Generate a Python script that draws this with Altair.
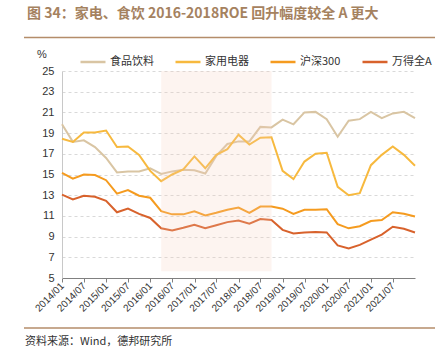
import altair as alt
import pandas as pd

dates = ["2013-12-31", "2014-03-31", "2014-06-30", "2014-09-30", "2014-12-31",
         "2015-03-31", "2015-06-30", "2015-09-30", "2015-12-31",
         "2016-03-31", "2016-06-30", "2016-09-30", "2016-12-31",
         "2017-03-31", "2017-06-30", "2017-09-30", "2017-12-31",
         "2018-03-31", "2018-06-30", "2018-09-30", "2018-12-31",
         "2019-03-31", "2019-06-30", "2019-09-30", "2019-12-31",
         "2020-03-31", "2020-06-30", "2020-09-30", "2020-12-31",
         "2021-03-31", "2021-06-30", "2021-09-30", "2021-12-31"]

food = [19.85, 18.15, 18.3, 17.65, 16.6, 15.2, 15.3, 15.3, 15.6,
        15.05, 15.3, 15.45, 15.4, 15.1, 16.8, 17.95, 18.2,
        18.2, 19.6, 19.55, 20.3, 19.85, 21.0, 21.05, 20.35,
        18.65, 20.2, 20.35, 21.05, 20.45, 20.9, 21.05, 20.45]
appliance = [18.45, 18.15, 19.05, 19.05, 19.25, 17.65, 17.7, 16.9, 15.35,
             14.35, 15.0, 15.5, 16.75, 15.6, 16.9, 17.45, 18.85,
             17.9, 18.55, 18.6, 15.35, 14.55, 16.25, 17.0, 17.1,
             13.8, 13.0, 13.2, 15.9, 16.9, 17.7, 16.9, 15.85]
hs300 = [15.15, 14.6, 15.0, 14.95, 14.45, 13.15, 13.5, 12.95, 12.75,
         11.45, 11.15, 11.15, 11.45, 11.05, 11.3, 11.6, 11.8,
         11.3, 11.9, 11.9, 11.7, 11.2, 11.6, 11.6, 11.65,
         10.2, 9.8, 10.0, 10.5, 10.6, 11.35, 11.2, 10.95]
wind_a = [13.05, 12.6, 12.95, 12.85, 12.45, 11.35, 11.7, 11.2, 10.8,
          9.8, 9.6, 9.85, 10.15, 9.8, 10.1, 10.4, 10.55,
          10.25, 10.7, 10.6, 9.65, 9.3, 9.4, 9.45, 9.4,
          8.15, 7.85, 8.2, 8.7, 9.2, 9.95, 9.75, 9.4]

series_names = ["食品饮料", "家用电器", "沪深300", "万得全A"]
series_colors = ["#d9c5a3", "#f7b93e", "#f59b1f", "#d8622c"]
series_values = [food, appliance, hs300, wind_a]

shade_start = ["2016-03-31"]
shade_end = ["2018-09-30"]
shade_low = [5.65]
shade_high = [25]

y_ticks = [5, 7, 9, 11, 13, 15, 17, 19, 21, 23, 25]
x_tick_years_months = [(y, m) for y in range(2014, 2022) for m in (1, 7)]

title_text = "图 34：家电、食饮 2016-2018ROE 回升幅度较全 A 更大"
source_text = "资料来源：Wind，德邦研究所"
unit_text = "%"

rows = []
for name, vals in zip(series_names, series_values):
    for d, v in zip(dates, vals):
        rows.append({"date": d + "T00:00:00", "value": v, "series": name})
df = pd.DataFrame(rows)

shade_df = pd.DataFrame({
    "date": [s + "T00:00:00" for s in shade_start],
    "end": [e + "T00:00:00" for e in shade_end],
    "value": shade_low, "high": shade_high,
})

W, H = 353, 207
PAD_L, PAD_T = 62, 71

x_scale = alt.Scale(domain=[alt.DateTime(year=2013, month=12, date=31),
                            alt.DateTime(year=2021, month=12, date=31)])
y_scale = alt.Scale(domain=[5, 25], nice=False, zero=False)

x_values = [alt.DateTime(year=y, month=m, date=1) for y, m in x_tick_years_months]

x_axis = alt.Axis(values=x_values, format="%Y/%m", labelAngle=-45,
                  labelAlign="right", labelBaseline="middle",
                  labelFontSize=10, labelColor="#333333", labelPadding=2,
                  labelFont="Liberation Sans",
                  domainColor="#808080", tickColor="#808080", tickSize=4,
                  grid=False, labelOverlap=False, labelFlush=False)
y_axis = alt.Axis(values=y_ticks, labelFontSize=11, labelColor="#333333",
                  labelFont="Liberation Sans", labelPadding=8,
                  ticks=False, domainColor="#c8c8c8",
                  grid=True, gridColor="#d9d9d9", gridDash=[3, 3])

lines = alt.Chart(df).mark_line(strokeWidth=2).encode(
    x=alt.X("date:T", scale=x_scale, title=None, axis=x_axis),
    y=alt.Y("value:Q", scale=y_scale, title=None, axis=y_axis),
    color=alt.Color("series:N",
                    scale=alt.Scale(domain=series_names, range=series_colors),
                    sort=series_names,
                    legend=alt.Legend(title=None, orient="none", direction="horizontal",
                                      legendX=17, legendY=-23, symbolType="stroke",
                                      symbolSize=625, symbolStrokeWidth=2.5,
                                      labelFontSize=11, labelColor="#333333",
                                      labelFont="Noto Sans CJK SC", labelOffset=3,
                                      columnPadding=16, padding=0)),
)

shade = alt.Chart(shade_df).mark_rect(color="#f5cbbb", opacity=0.22).encode(
    x=alt.X("date:T", scale=x_scale, title=None, axis=x_axis),
    x2="end:T",
    y=alt.Y("value:Q", scale=y_scale, title=None, axis=y_axis),
    y2="high:Q",
)

one = pd.DataFrame({"k": [0]})

title = alt.Chart(one).mark_text(text=title_text, align="left", baseline="middle",
                                 fontSize=14, fontWeight="bold", color="#a5825f",
                                 font="Noto Sans CJK SC").encode(
    x=alt.value(27 - PAD_L), y=alt.value(14 - PAD_T))

top_rule = alt.Chart(one).mark_rule(color="#b48d6a", strokeWidth=1.5).encode(
    x=alt.value(24 - PAD_L), x2=alt.value(435 - PAD_L), y=alt.value(37.5 - PAD_T))

bottom_rule = alt.Chart(one).mark_rule(color="#b48d6a", strokeWidth=1.5).encode(
    x=alt.value(24 - PAD_L), x2=alt.value(435 - PAD_L), y=alt.value(328 - PAD_T))

source = alt.Chart(one).mark_text(text=source_text, align="left", baseline="middle",
                                  fontSize=11, color="#333333",
                                  font="Noto Sans CJK SC").encode(
    x=alt.value(25 - PAD_L), y=alt.value(342 - PAD_T))

unit = alt.Chart(one).mark_text(text=unit_text, align="center", baseline="middle",
                                fontSize=11, color="#333333",
                                font="Liberation Sans").encode(
    x=alt.value(42 - PAD_L), y=alt.value(55 - PAD_T))

chart = alt.layer(lines, shade, title, top_rule, bottom_rule, source, unit).properties(
    width=W, height=H,
    autosize=alt.AutoSizeParams(type="none"),
    padding={"left": PAD_L, "top": PAD_T, "right": 439 - PAD_L - W, "bottom": 356 - PAD_T - H},
    background="white",
).configure_view(stroke=None)

chart.save("out.html", embed_options={"renderer": "svg", "actions": False})
